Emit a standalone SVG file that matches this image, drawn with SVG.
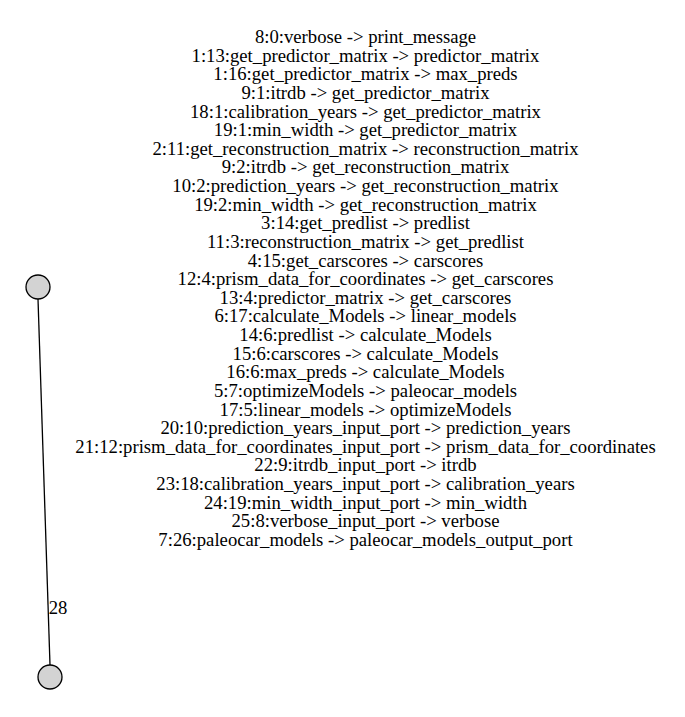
<svg xmlns="http://www.w3.org/2000/svg" width="685" height="717" viewBox="0 0 685 717">
<style>
.n{fill:#d3d3d3;stroke:#000;stroke-width:1.3}
.e{stroke:#000;stroke-width:1.3;fill:none}
</style>
<rect width="685" height="717" fill="#fff"/>
<g id="connectors">
<line class="e" x1="38" y1="299" x2="50" y2="665"/>
<text x="58" y="614" font-family="Liberation Serif" font-size="18.7" text-anchor="middle">28</text>
</g>
<g id="node-top"><circle class="n" cx="38" cy="287" r="12"/></g>
<g id="node-bottom"><circle class="n" cx="50" cy="677" r="12"/></g>
<g id="labels">
<text font-family="Liberation Serif" font-size="18.7" text-anchor="middle" x="365.5" y="43">8:0:verbose -&gt; print_message</text>
<text font-family="Liberation Serif" font-size="18.7" text-anchor="middle" x="365.5" y="61.6">1:13:get_predictor_matrix -&gt; predictor_matrix</text>
<text font-family="Liberation Serif" font-size="18.7" text-anchor="middle" x="365.5" y="80.3">1:16:get_predictor_matrix -&gt; max_preds</text>
<text font-family="Liberation Serif" font-size="18.7" text-anchor="middle" x="365.5" y="98.9">9:1:itrdb -&gt; get_predictor_matrix</text>
<text font-family="Liberation Serif" font-size="18.7" text-anchor="middle" x="365.5" y="117.5">18:1:calibration_years -&gt; get_predictor_matrix</text>
<text font-family="Liberation Serif" font-size="18.7" text-anchor="middle" x="365.5" y="136.1">19:1:min_width -&gt; get_predictor_matrix</text>
<text font-family="Liberation Serif" font-size="18.7" text-anchor="middle" x="365.5" y="154.8">2:11:get_reconstruction_matrix -&gt; reconstruction_matrix</text>
<text font-family="Liberation Serif" font-size="18.7" text-anchor="middle" x="365.5" y="173.4">9:2:itrdb -&gt; get_reconstruction_matrix</text>
<text font-family="Liberation Serif" font-size="18.7" text-anchor="middle" x="365.5" y="192">10:2:prediction_years -&gt; get_reconstruction_matrix</text>
<text font-family="Liberation Serif" font-size="18.7" text-anchor="middle" x="365.5" y="210.6">19:2:min_width -&gt; get_reconstruction_matrix</text>
<text font-family="Liberation Serif" font-size="18.7" text-anchor="middle" x="365.5" y="229.3">3:14:get_predlist -&gt; predlist</text>
<text font-family="Liberation Serif" font-size="18.7" text-anchor="middle" x="365.5" y="247.9">11:3:reconstruction_matrix -&gt; get_predlist</text>
<text font-family="Liberation Serif" font-size="18.7" text-anchor="middle" x="365.5" y="266.5">4:15:get_carscores -&gt; carscores</text>
<text font-family="Liberation Serif" font-size="18.7" text-anchor="middle" x="365.5" y="285.1">12:4:prism_data_for_coordinates -&gt; get_carscores</text>
<text font-family="Liberation Serif" font-size="18.7" text-anchor="middle" x="365.5" y="303.8">13:4:predictor_matrix -&gt; get_carscores</text>
<text font-family="Liberation Serif" font-size="18.7" text-anchor="middle" x="365.5" y="322.4">6:17:calculate_Models -&gt; linear_models</text>
<text font-family="Liberation Serif" font-size="18.7" text-anchor="middle" x="365.5" y="341">14:6:predlist -&gt; calculate_Models</text>
<text font-family="Liberation Serif" font-size="18.7" text-anchor="middle" x="365.5" y="359.6">15:6:carscores -&gt; calculate_Models</text>
<text font-family="Liberation Serif" font-size="18.7" text-anchor="middle" x="365.5" y="378.3">16:6:max_preds -&gt; calculate_Models</text>
<text font-family="Liberation Serif" font-size="18.7" text-anchor="middle" x="365.5" y="396.9">5:7:optimizeModels -&gt; paleocar_models</text>
<text font-family="Liberation Serif" font-size="18.7" text-anchor="middle" x="365.5" y="415.5">17:5:linear_models -&gt; optimizeModels</text>
<text font-family="Liberation Serif" font-size="18.7" text-anchor="middle" x="365.5" y="434.1">20:10:prediction_years_input_port -&gt; prediction_years</text>
<text font-family="Liberation Serif" font-size="18.7" text-anchor="middle" x="365.5" y="452.8">21:12:prism_data_for_coordinates_input_port -&gt; prism_data_for_coordinates</text>
<text font-family="Liberation Serif" font-size="18.7" text-anchor="middle" x="365.5" y="471.4">22:9:itrdb_input_port -&gt; itrdb</text>
<text font-family="Liberation Serif" font-size="18.7" text-anchor="middle" x="365.5" y="490">23:18:calibration_years_input_port -&gt; calibration_years</text>
<text font-family="Liberation Serif" font-size="18.7" text-anchor="middle" x="365.5" y="508.6">24:19:min_width_input_port -&gt; min_width</text>
<text font-family="Liberation Serif" font-size="18.7" text-anchor="middle" x="365.5" y="527.3">25:8:verbose_input_port -&gt; verbose</text>
<text font-family="Liberation Serif" font-size="18.7" text-anchor="middle" x="365.5" y="546">7:26:paleocar_models -&gt; paleocar_models_output_port</text>
</g>
</svg>
